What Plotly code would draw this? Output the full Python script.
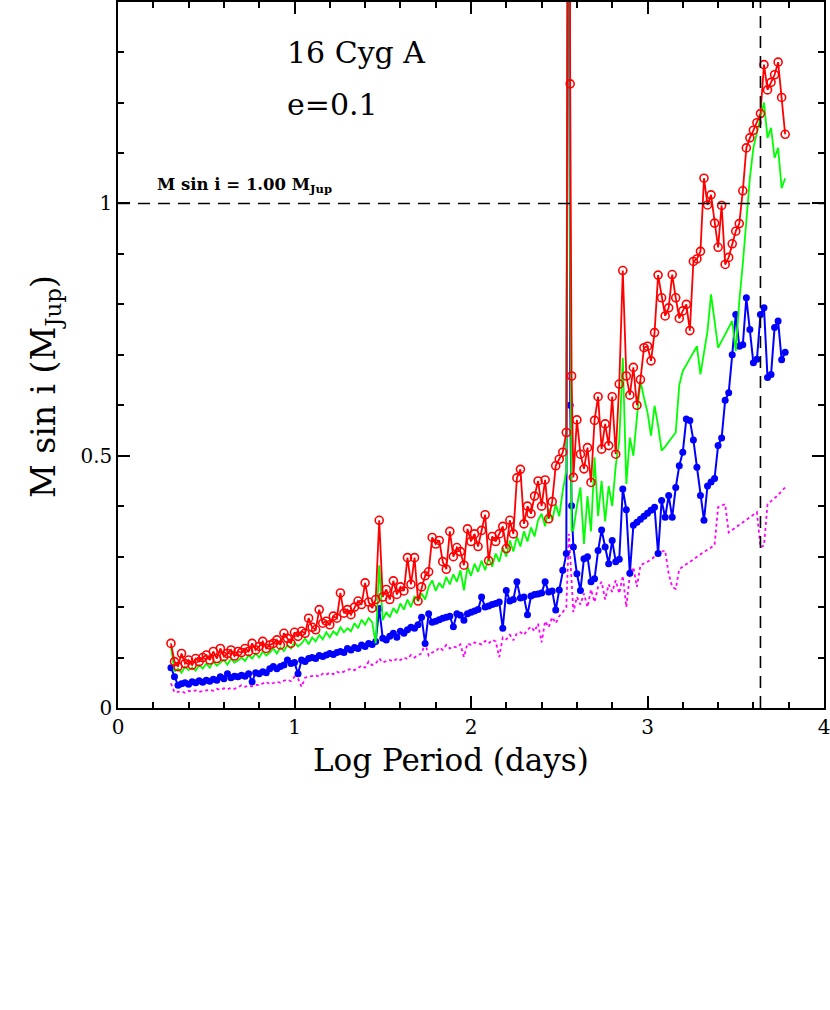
import plotly.graph_objects as go

# Log period grid (days, log10)
log_period = [
    0.30, 0.32, 0.34, 0.36, 0.38, 0.40, 0.42, 0.44, 0.46, 0.48,
    0.50, 0.52, 0.54, 0.56, 0.58, 0.60, 0.62, 0.64, 0.66, 0.68,
    0.70, 0.72, 0.74, 0.76, 0.78, 0.80, 0.82, 0.84, 0.86, 0.88,
    0.90, 0.92, 0.94, 0.96, 0.98, 1.00, 1.02, 1.04, 1.06, 1.08,
    1.10, 1.12, 1.14, 1.16, 1.18, 1.20, 1.22, 1.24, 1.26, 1.28,
    1.30, 1.32, 1.34, 1.36, 1.38, 1.40, 1.42, 1.44, 1.46, 1.48,
    1.50, 1.52, 1.54, 1.56, 1.58, 1.60, 1.62, 1.64, 1.66, 1.68,
    1.70, 1.72, 1.74, 1.76, 1.78, 1.80, 1.82, 1.84, 1.86, 1.88,
    1.90, 1.92, 1.94, 1.96, 1.98, 2.00, 2.02, 2.04, 2.06, 2.08,
    2.10, 2.12, 2.14, 2.16, 2.18, 2.20, 2.22, 2.24, 2.26, 2.28,
    2.30, 2.32, 2.34, 2.36, 2.38, 2.40, 2.42, 2.44, 2.46, 2.48,
    2.50, 2.52, 2.54,
    2.555, 2.562, 2.57,
    2.58, 2.60, 2.62, 2.64, 2.66, 2.68, 2.70, 2.72, 2.74, 2.76,
    2.78, 2.80, 2.82, 2.84, 2.86, 2.88, 2.90, 2.92, 2.94, 2.96,
    2.98, 3.00, 3.02, 3.04, 3.06, 3.08, 3.10, 3.12, 3.14, 3.16,
    3.18, 3.20, 3.22, 3.24, 3.26, 3.28, 3.30, 3.32, 3.34, 3.36,
    3.38, 3.40, 3.42, 3.44, 3.46, 3.48, 3.50, 3.52, 3.54, 3.56,
    3.58, 3.60, 3.62, 3.64, 3.66, 3.68, 3.70, 3.72, 3.74, 3.76,
    3.78,
]

# Red (open circles)
msini_red = [
    0.128, 0.092, 0.082, 0.108, 0.088, 0.095, 0.085, 0.098, 0.092, 0.100,
    0.105, 0.095, 0.112, 0.098, 0.118, 0.102, 0.108, 0.115, 0.103, 0.112,
    0.110, 0.118, 0.112, 0.128, 0.115, 0.122, 0.132, 0.118, 0.125, 0.128,
    0.135, 0.125, 0.148, 0.138, 0.128, 0.150, 0.142, 0.152, 0.148, 0.178,
    0.160, 0.155, 0.195, 0.168, 0.172, 0.165, 0.182, 0.178, 0.228, 0.188,
    0.195, 0.185, 0.200, 0.212, 0.205, 0.248, 0.210, 0.198, 0.215, 0.372,
    0.220, 0.235, 0.215, 0.252, 0.225, 0.240, 0.232, 0.298, 0.245, 0.298,
    0.212, 0.240, 0.262, 0.270, 0.338, 0.325, 0.332, 0.290, 0.275, 0.350,
    0.300, 0.318, 0.310, 0.283, 0.355, 0.330, 0.345, 0.320, 0.352, 0.383,
    0.292, 0.340, 0.330, 0.345, 0.360, 0.316, 0.372, 0.345, 0.456, 0.473,
    0.365, 0.400, 0.385, 0.420, 0.450, 0.400, 0.452, 0.375, 0.409, 0.480,
    0.493, 0.507, 0.546,
    2.500, 1.237, 0.658,
    0.457, 0.571, 0.503, 0.474, 0.516, 0.447, 0.570, 0.617, 0.513, 0.563,
    0.520, 0.617, 0.503, 0.642, 0.867, 0.658, 0.620, 0.675, 0.600, 0.651,
    0.714, 0.717, 0.688, 0.744, 0.858, 0.813, 0.777, 0.793, 0.859, 0.813,
    0.772, 0.787, 0.800, 0.748, 0.885, 0.890, 0.905, 1.050, 0.997, 1.017,
    0.961, 0.913, 0.996, 0.879, 0.893, 0.920, 0.945, 0.960, 1.025, 1.110,
    1.130, 1.145, 1.160, 1.178, 1.275, 1.225, 1.240, 1.255, 1.280, 1.210,
    1.137,
]

# Green (line)
msini_green = [
    0.122, 0.072, 0.078, 0.070, 0.082, 0.075, 0.080, 0.074, 0.085, 0.078,
    0.088, 0.080, 0.092, 0.084, 0.090, 0.095, 0.086, 0.098, 0.090, 0.094,
    0.100, 0.093, 0.105, 0.098, 0.108, 0.100, 0.112, 0.104, 0.110, 0.118,
    0.108, 0.120, 0.113, 0.125, 0.118, 0.130, 0.122, 0.128, 0.138, 0.126,
    0.140, 0.132, 0.145, 0.136, 0.150, 0.140, 0.152, 0.145, 0.160, 0.150,
    0.158, 0.152, 0.168, 0.158, 0.175, 0.165, 0.178, 0.170, 0.128, 0.283,
    0.174, 0.190, 0.180, 0.198, 0.188, 0.207, 0.195, 0.215, 0.200, 0.222,
    0.212, 0.227, 0.215, 0.240, 0.253, 0.232, 0.248, 0.238, 0.260, 0.245,
    0.265, 0.250, 0.273, 0.233, 0.280, 0.262, 0.286, 0.270, 0.292, 0.273,
    0.298, 0.280, 0.306, 0.290, 0.318, 0.300, 0.332, 0.310, 0.340, 0.320,
    0.350, 0.330, 0.358, 0.340, 0.372, 0.385, 0.360, 0.395, 0.372, 0.404,
    0.380, 0.431, 0.470,
    2.500, 0.900, 0.352,
    0.352, 0.400, 0.437, 0.325, 0.420, 0.350, 0.497, 0.380, 0.450, 0.370,
    0.440, 0.400, 0.480, 0.530, 0.694, 0.444, 0.536, 0.500, 0.576, 0.648,
    0.615, 0.586, 0.540, 0.599, 0.560, 0.510, 0.518, 0.527, 0.536, 0.546,
    0.640, 0.668, 0.680, 0.693, 0.707, 0.717, 0.661, 0.700, 0.747, 0.820,
    0.767, 0.714, 0.727, 0.740, 0.753, 0.767, 0.707, 0.806, 0.880, 0.970,
    1.050, 1.110, 1.140, 1.170, 1.200, 1.130, 1.150, 1.090, 1.110, 1.030,
    1.050,
]

# Blue (filled circles)
msini_blue = [
    0.080, 0.062, 0.045, 0.048, 0.050, 0.047, 0.052, 0.050, 0.054, 0.051,
    0.055, 0.053, 0.057, 0.055, 0.062, 0.058, 0.068, 0.060, 0.063, 0.062,
    0.065, 0.063, 0.068, 0.052, 0.070, 0.068, 0.072, 0.070, 0.078, 0.082,
    0.078, 0.082, 0.085, 0.095, 0.088, 0.090, 0.068, 0.095, 0.092, 0.098,
    0.100, 0.098, 0.104, 0.102, 0.105, 0.108, 0.106, 0.110, 0.112, 0.110,
    0.118, 0.115, 0.120, 0.118, 0.125, 0.122, 0.128, 0.126, 0.132, 0.197,
    0.138, 0.135, 0.142, 0.148, 0.140, 0.152, 0.148, 0.155, 0.160, 0.158,
    0.165, 0.180, 0.128, 0.187, 0.170, 0.172, 0.175, 0.178, 0.180, 0.182,
    0.161, 0.187, 0.184, 0.174, 0.187, 0.190, 0.192, 0.195, 0.220, 0.200,
    0.202, 0.205, 0.207, 0.210, 0.158, 0.233, 0.212, 0.215, 0.250, 0.218,
    0.220, 0.185, 0.222, 0.225, 0.226, 0.228, 0.250, 0.230, 0.232, 0.194,
    0.234, 0.273, 0.306,
    2.500, 0.600, 0.401,
    0.319, 0.266, 0.233, 0.296, 0.300, 0.250, 0.256, 0.312, 0.353, 0.319,
    0.286, 0.332, 0.290, 0.295, 0.434, 0.393, 0.267, 0.362, 0.368, 0.374,
    0.380, 0.386, 0.392, 0.398, 0.306, 0.411, 0.378, 0.421, 0.378, 0.437,
    0.480, 0.507, 0.573, 0.570, 0.531, 0.477, 0.421, 0.372, 0.440, 0.448,
    0.455, 0.520, 0.535, 0.610, 0.625, 0.700, 0.780, 0.717, 0.720, 0.813,
    0.750, 0.684, 0.691, 0.780, 0.793, 0.655, 0.661, 0.754, 0.767, 0.690,
    0.705,
]

# Magenta (dotted)
msini_magenta = [
    0.049, 0.031, 0.032, 0.033, 0.030, 0.034, 0.033, 0.035, 0.032, 0.034,
    0.035, 0.036, 0.034, 0.038, 0.036, 0.039, 0.037, 0.040, 0.038, 0.041,
    0.045, 0.042, 0.044, 0.043, 0.046, 0.045, 0.048, 0.052, 0.047, 0.050,
    0.052, 0.050, 0.054, 0.056, 0.053, 0.062, 0.058, 0.042, 0.060, 0.062,
    0.063, 0.065, 0.062, 0.068, 0.066, 0.070, 0.067, 0.072, 0.069, 0.072,
    0.074, 0.078, 0.075, 0.080, 0.084, 0.080, 0.092, 0.085, 0.088, 0.098,
    0.090, 0.093, 0.095, 0.092, 0.098, 0.095, 0.100, 0.097, 0.105, 0.100,
    0.105, 0.108, 0.128, 0.104, 0.110, 0.112, 0.120, 0.115, 0.125, 0.118,
    0.122, 0.120, 0.126, 0.101, 0.128, 0.125, 0.130, 0.128, 0.126, 0.133,
    0.128, 0.135, 0.132, 0.101, 0.140, 0.136, 0.145, 0.134, 0.148, 0.150,
    0.145, 0.155, 0.161, 0.152, 0.167, 0.130, 0.172, 0.160, 0.180, 0.168,
    0.182, 0.190, 0.200,
    0.345, 0.306, 0.246,
    0.190, 0.220, 0.205, 0.227, 0.200, 0.235, 0.210, 0.240, 0.250, 0.215,
    0.245, 0.230, 0.253, 0.227, 0.262, 0.200, 0.265, 0.279, 0.240, 0.283,
    0.286, 0.290, 0.294, 0.300, 0.306, 0.310, 0.312, 0.266, 0.240, 0.236,
    0.275, 0.280, 0.285, 0.290, 0.295, 0.300, 0.305, 0.310, 0.314, 0.318,
    0.323, 0.398, 0.401, 0.404, 0.348, 0.353, 0.358, 0.363, 0.368, 0.373,
    0.378, 0.384, 0.388, 0.319, 0.322, 0.404, 0.410, 0.416, 0.422, 0.430,
    0.437,
]

ref_mass = 1.0
ref_logp = 3.64
x_range = [0, 4]
y_range = [0, 1.3992]
x_ticks = [0, 1, 2, 3, 4]
y_ticks = [0, 0.5, 1]
y_ticktext = ["0", "0.5", "1"]

FONT = "DejaVu Serif"
DASH = "12px,8px"

fig = go.Figure()
fig.add_trace(go.Scatter(
    x=log_period, y=msini_magenta, mode="lines",
    line=dict(color="#ff00ff", width=1.8, dash="dot"), hoverinfo="skip"))
fig.add_trace(go.Scatter(
    x=log_period, y=msini_blue, mode="lines+markers",
    line=dict(color="#0000ff", width=2),
    marker=dict(symbol="circle", size=7, color="#0000ff"), hoverinfo="skip"))
fig.add_trace(go.Scatter(
    x=log_period, y=msini_green, mode="lines",
    line=dict(color="#00ff00", width=1.8), hoverinfo="skip"))
fig.add_trace(go.Scatter(
    x=log_period, y=msini_red, mode="lines+markers",
    line=dict(color="#ff0000", width=1.8),
    marker=dict(symbol="circle-open", size=8, color="#ff0000",
                line=dict(width=1.6, color="#ff0000")), hoverinfo="skip"))

fig.add_hline(y=ref_mass, line=dict(color="black", width=1.6, dash=DASH))
fig.add_vline(x=ref_logp, line=dict(color="black", width=1.6, dash=DASH))

fig.add_annotation(x=0.945, y=1.30, xref="x", yref="y", text="16 Cyg A",
                   showarrow=False, xanchor="left", yanchor="middle",
                   font=dict(family=FONT, size=30, color="black"))
fig.add_annotation(x=0.945, y=1.196, xref="x", yref="y", text="e=0.1",
                   showarrow=False, xanchor="left", yanchor="middle",
                   font=dict(family=FONT, size=30, color="black"))
fig.add_annotation(x=0.21, y=1.036, xref="x", yref="y",
                   text="<b>M sin i = 1.00 M<sub>Jup</sub></b>",
                   showarrow=False, xanchor="left", yanchor="middle",
                   font=dict(family=FONT, size=16.5, color="black"))

# axis titles
fig.add_annotation(x=0.472, y=-0.0734, xref="paper", yref="paper",
                   text="Log Period (days)", showarrow=False,
                   xanchor="center", yanchor="middle",
                   font=dict(family=FONT, size=31, color="black"))
fig.add_annotation(x=-0.103, y=0.455, xref="paper", yref="paper",
                   text="M sin i (M<sub>Jup</sub>)", showarrow=False, textangle=-90,
                   xanchor="center", yanchor="middle",
                   font=dict(family=FONT, size=33, color="black"))

axis_common = dict(showline=True, linecolor="black", linewidth=1.5, mirror="allticks",
                   ticks="inside", ticklen=12, tickwidth=1.5, tickcolor="black",
                   showgrid=False, zeroline=False, ticklabeloverflow="allow",
                   tickfont=dict(family=FONT, size=20, color="black"))

fig.update_xaxes(range=x_range, tickvals=x_ticks,
                 minor=dict(dtick=0.2, ticks="inside", ticklen=6, tickwidth=1.5,
                            tickcolor="black", showgrid=False),
                 **axis_common)
fig.update_yaxes(range=y_range, tickvals=y_ticks, ticktext=y_ticktext,
                 minor=dict(dtick=0.1, ticks="inside", ticklen=6, tickwidth=1.5,
                            tickcolor="black", showgrid=False),
                 **axis_common)

fig.update_layout(width=830, height=1010, showlegend=False,
                  plot_bgcolor="white", paper_bgcolor="white",
                  margin=dict(l=118, r=5, t=0, b=302))

fig.write_html("out.html", config={"displayModeBar": False},
               post_script="document.body.style.margin='0';document.body.style.overflow='hidden';")
